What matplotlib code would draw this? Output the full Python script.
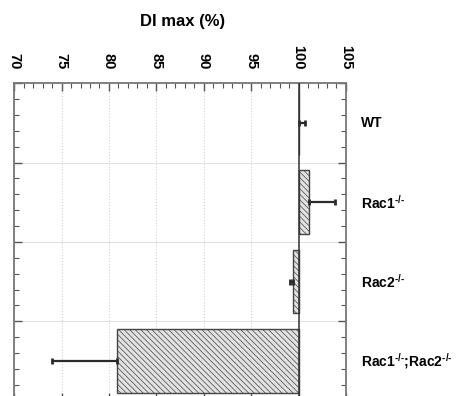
import numpy as np
import matplotlib
matplotlib.use('Agg')
import matplotlib.pyplot as plt
from matplotlib.ticker import MultipleLocator
from matplotlib.transforms import blended_transform_factory

plt.rcParams['font.family'] = ['Liberation Sans', 'DejaVu Sans']
plt.rcParams['mathtext.fontset'] = 'custom'
plt.rcParams['mathtext.rm'] = 'Liberation Sans'
plt.rcParams['mathtext.it'] = 'Liberation Sans'
plt.rcParams['mathtext.bf'] = 'Liberation Sans:bold'
plt.rcParams['hatch.linewidth'] = 0.5
plt.rcParams['hatch.color'] = '#7a7a7a'

# data
ko = '$^{\\mathregular{\u2010/\u2010}}$'
genotypes = ['WT', 'Rac1' + ko, 'Rac2' + ko, 'Rac1' + ko + ';Rac2' + ko]
di_max = [100.0, 101.1, 99.4, 80.8]
err_low = [0.0, 0.0, 0.25, 6.8]
err_high = [0.7, 2.7, 0.0, 0.0]
baseline = 100

fig = plt.figure(figsize=(4.57, 3.96), dpi=100)
ax = fig.add_axes([0.031, -0.012, 0.726, 0.802])

y = np.arange(len(di_max)) + 0.5
widths = [v - baseline for v in di_max]
ax.barh(y, widths, left=baseline, height=0.8, color='#e2e2e2', edgecolor='#444444',
        linewidth=1.0, hatch='\\\\\\\\\\\\', zorder=3)
ax.errorbar(di_max, y, xerr=[err_low, err_high], fmt='none', ecolor='#2a2a2a',
            elinewidth=1.6, capsize=2.5, capthick=2, zorder=4)
ax.axvline(baseline, color='#333333', lw=1.1, zorder=5)

ax.set_xlim(70, 105)
ax.set_ylim(4, 0)
ax.xaxis.set_major_locator(MultipleLocator(5))
ax.xaxis.set_minor_locator(MultipleLocator(1))
ax.yaxis.set_major_locator(MultipleLocator(1))
ax.yaxis.set_minor_locator(MultipleLocator(0.2))
ax.grid(axis='x', which='major', color='#d4d4d4', ls=':', lw=0.8, zorder=0)
ax.grid(axis='y', which='major', color='#e0e0e0', ls='-', lw=0.7, zorder=0)

ax.tick_params(which='both', direction='in', top=True, bottom=True, left=True, right=True,
               labeltop=True, labelbottom=False, labelleft=False, labelright=False,
               color='#555555')
ax.tick_params(which='major', length=6, width=1.0)
ax.tick_params(which='minor', length=3.5, width=0.8)
ax.tick_params(axis='x', which='major', pad=10)
for lab in ax.get_xticklabels():
    lab.set_rotation(-90)
    lab.set_fontweight('bold')
    lab.set_fontsize(10.5)
    lab.set_ha('center')
    lab.set_va('bottom')

for s in ax.spines.values():
    s.set_color('#777777')
    s.set_linewidth(1.3)

trans = blended_transform_factory(ax.transAxes, ax.transData)
for yi, name in zip(y, genotypes):
    ax.text(1.045, yi, name, transform=trans, ha='left', va='center',
            fontsize=10, fontweight='bold')

fig.text(0.40, 0.945, 'DI max (%)', ha='center', va='center', fontsize=12, fontweight='bold')

fig.savefig('out.png', dpi=100)
